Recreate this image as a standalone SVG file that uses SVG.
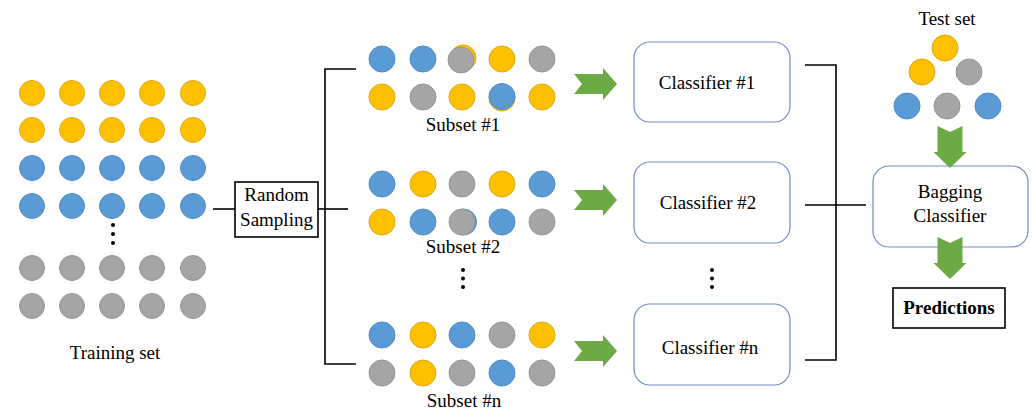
<svg xmlns="http://www.w3.org/2000/svg" width="1034" height="412" viewBox="0 0 1034 412">
<defs>
<style>
.o{fill:#FFC000;stroke:#DDA90F;stroke-width:1}
.b{fill:#5B9BD5;stroke:#4F8CC4;stroke-width:1}
.g{fill:#A5A5A5;stroke:#969696;stroke-width:1}
text{font-family:'Liberation Serif','DejaVu Serif',serif;font-size:19px;fill:#000;text-anchor:middle}
.bold{font-weight:bold}
.cls{fill:#fff;stroke:#6F8FC8;stroke-width:1.2}
.ln{stroke:#000;stroke-width:1.6;fill:none}
.arr{fill:#6DA944;stroke:none}
.dot{fill:#000}
</style>
<path id="ra" d="M0,-10 L29,-10 L29,-16 L43,0 L29,16 L29,10 L0,10 L8,0 Z"/>
<path id="da" d="M-12.5,0 L0,6 L12.5,0 L12.5,26 L16.5,26 L0,42 L-16.5,26 L-12.5,26 Z"/>
</defs>
<rect width="1034" height="412" fill="#fff"/>

<g id="connectors">
<line class="ln" x1="213" y1="209" x2="235" y2="209"/>
<polyline class="ln" points="356,69 325,69 325,364 356,364"/>
<line class="ln" x1="318" y1="209" x2="348" y2="209"/>
<polyline class="ln" points="805,65 836,65 836,360 805,360"/>
<line class="ln" x1="805" y1="205" x2="866" y2="205"/>
<use href="#ra" class="arr" x="574" y="84"/>
<use href="#ra" class="arr" x="574" y="200"/>
<use href="#ra" class="arr" x="574" y="351"/>
</g>

<g id="training-set">
<circle class="o" cx="32" cy="93" r="12.5"/><circle class="o" cx="72" cy="93" r="12.5"/><circle class="o" cx="112" cy="93" r="12.5"/><circle class="o" cx="152" cy="93" r="12.5"/><circle class="o" cx="193" cy="93" r="12.5"/>
<circle class="o" cx="32" cy="130" r="12.5"/><circle class="o" cx="72" cy="130" r="12.5"/><circle class="o" cx="112" cy="130" r="12.5"/><circle class="o" cx="152" cy="130" r="12.5"/><circle class="o" cx="193" cy="130" r="12.5"/>
<circle class="b" cx="32" cy="168" r="12.5"/><circle class="b" cx="72" cy="168" r="12.5"/><circle class="b" cx="112" cy="168" r="12.5"/><circle class="b" cx="152" cy="168" r="12.5"/><circle class="b" cx="193" cy="168" r="12.5"/>
<circle class="b" cx="32" cy="206" r="12.5"/><circle class="b" cx="72" cy="206" r="12.5"/><circle class="b" cx="112" cy="206" r="12.5"/><circle class="b" cx="152" cy="206" r="12.5"/><circle class="b" cx="193" cy="206" r="12.5"/>
<circle class="dot" cx="113" cy="225" r="2"/><circle class="dot" cx="113" cy="234" r="2"/><circle class="dot" cx="113" cy="243" r="2"/>
<circle class="g" cx="32" cy="268" r="12.5"/><circle class="g" cx="72" cy="268" r="12.5"/><circle class="g" cx="112" cy="268" r="12.5"/><circle class="g" cx="152" cy="268" r="12.5"/><circle class="g" cx="193" cy="268" r="12.5"/>
<circle class="g" cx="32" cy="306" r="12.5"/><circle class="g" cx="72" cy="306" r="12.5"/><circle class="g" cx="112" cy="306" r="12.5"/><circle class="g" cx="152" cy="306" r="12.5"/><circle class="g" cx="193" cy="306" r="12.5"/>
<text x="115" y="359">Training set</text>
</g>

<g id="random-sampling">
<rect x="235" y="182" width="83" height="55" fill="#fff" stroke="#000" stroke-width="1.6"/>
<text x="276.5" y="201">Random</text>
<text x="276.5" y="226">Sampling</text>
</g>

<g id="subset-1">
<circle class="b" cx="382" cy="59" r="13"/><circle class="b" cx="423" cy="59" r="13"/><circle class="o" cx="463" cy="58" r="13"/><circle class="g" cx="461" cy="60" r="13"/><circle class="o" cx="502" cy="59" r="13"/><circle class="g" cx="542" cy="59" r="13"/>
<circle class="o" cx="382" cy="97" r="13"/><circle class="g" cx="423" cy="97" r="13"/><circle class="o" cx="462" cy="97" r="13"/><circle class="o" cx="502" cy="98" r="13"/><circle class="b" cx="502" cy="96.5" r="13"/><circle class="o" cx="542" cy="97" r="13"/>
<text x="463" y="131">Subset #1</text>
</g>

<g id="subset-2">
<circle class="b" cx="382" cy="184" r="13"/><circle class="o" cx="423" cy="184" r="13"/><circle class="g" cx="462" cy="184" r="13"/><circle class="o" cx="502" cy="184" r="13"/><circle class="b" cx="542" cy="184" r="13"/>
<circle class="o" cx="382" cy="222" r="13"/><circle class="b" cx="423" cy="222" r="13"/><circle class="b" cx="463.5" cy="222" r="13"/><circle class="g" cx="462" cy="222" r="13"/><circle class="b" cx="502" cy="222" r="13"/><circle class="g" cx="542" cy="222" r="13"/>
<text x="463" y="253">Subset #2</text>
<circle class="dot" cx="463" cy="270" r="2"/><circle class="dot" cx="463" cy="278.5" r="2"/><circle class="dot" cx="463" cy="287" r="2"/>
</g>

<g id="subset-n">
<circle class="b" cx="382" cy="335" r="13"/><circle class="o" cx="423" cy="335" r="13"/><circle class="b" cx="462" cy="335" r="13"/><circle class="g" cx="502" cy="335" r="13"/><circle class="o" cx="542" cy="335" r="13"/>
<circle class="g" cx="382" cy="373" r="13"/><circle class="o" cx="423" cy="373" r="13"/><circle class="g" cx="462" cy="373" r="13"/><circle class="b" cx="502" cy="373" r="13"/><circle class="g" cx="542" cy="373" r="13"/>
<text x="464" y="407">Subset #n</text>
</g>

<g id="classifier-1">
<rect class="cls" x="634" y="42" width="156" height="80" rx="16"/>
<text x="707" y="89">Classifier #1</text>
</g>
<g id="classifier-2">
<rect class="cls" x="634" y="162" width="156" height="81" rx="16"/>
<text x="708" y="209">Classifier #2</text>
<circle class="dot" cx="712" cy="270" r="2"/><circle class="dot" cx="712" cy="278.5" r="2"/><circle class="dot" cx="712" cy="287" r="2"/>
</g>
<g id="classifier-n">
<rect class="cls" x="634" y="304" width="156" height="81" rx="16"/>
<text x="710" y="354">Classifier #n</text>
</g>

<g id="test-set">
<text x="947" y="25">Test set</text>
<circle class="o" cx="945" cy="48" r="13"/>
<circle class="o" cx="922" cy="72" r="13"/><circle class="g" cx="969" cy="72" r="13"/>
<circle class="b" cx="907" cy="106" r="13"/><circle class="g" cx="947" cy="106" r="13"/><circle class="b" cx="988" cy="106" r="13"/>
</g>

<g id="bagging-classifier">
<rect class="cls" x="873" y="166" width="155" height="81" rx="16"/>
<text x="950" y="198">Bagging</text>
<text x="950" y="222">Classifier</text>
</g>

<g id="flow-arrows">
<use href="#da" class="arr" x="950" y="126"/>
<use href="#da" class="arr" x="950" y="237"/>
</g>

<g id="predictions">
<rect x="893" y="288" width="112" height="40" fill="#fff" stroke="#000" stroke-width="1.6"/>
<text class="bold" x="949" y="314">Predictions</text>
</g>
</svg>
